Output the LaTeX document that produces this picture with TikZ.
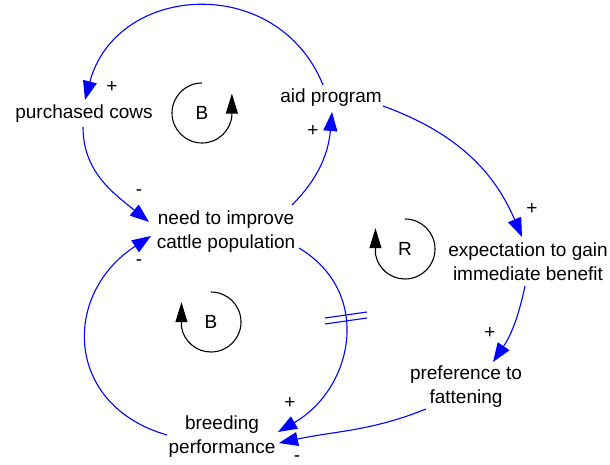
\documentclass[tikz,border=0pt]{standalone}
\usepackage{fontspec}
\setmainfont{Liberation Sans}
\usetikzlibrary{arrows.meta,calc}
\begin{document}
\begin{tikzpicture}[x=1pt,y=1pt,
  var/.style={align=center, inner sep=0pt, font=\fontsize{19}{24}\selectfont},
  sgn/.style={inner sep=0pt, font=\fontsize{19}{24}\selectfont},
  link/.style={draw=blue, line width=1.1pt, -{Triangle[length=19pt,width=14pt]}},
  loopmark/.style={draw=black, line width=1.1pt, -{Triangle[length=20pt,width=12pt]}},
  delaymark/.style={draw=blue, line width=1.1pt}
]
\useasboundingbox (0,0) rectangle (610,-465);
% variables
\node[var] (pc) at (84,-114) {purchased cows};
\node[var] (aid) at (331,-98) {aid program};
\node[var] (need) at (226,-232) {need to improve\\cattle population};
\node[var] (exp) at (528,-262) {expectation to gain\\immediate benefit};
\node[var] (pref) at (466,-387) {preference to\\fattening};
\node[var] (breed) at (222,-437) {breeding\\performance};
% links
\draw[link] ($(aid)+(-8,13)$) to[out=112,in=75,looseness=1.3] ($(pc)+(1,14)$);
\draw[link] ($(pc)+(-1,-13)$) to[out=-90,in=141] ($(need)+(-77,10)$);
\draw[link] ($(need)+(66,27)$) to[out=45,in=265] ($(aid)+(1,-14)$);
\draw[link] ($(aid)+(52,-8)$) to[out=-20,in=113] ($(exp)+(-6,25)$);
\draw[link] ($(exp)+(-3,-24)$) to[out=-102,in=56] ($(pref)+(27,25)$);
\draw[link] ($(pref)+(-40,-22)$) to[out=202,in=12] ($(breed)+(57,-6)$);
\draw[link] ($(need)+(73,-16)$) to[out=-31,in=30,looseness=1.2] ($(breed)+(56,5)$);
\draw[link] ($(breed)+(-55,2)$) to[out=164,in=213,looseness=1.37] ($(need)+(-75,-4)$);
% delay mark
\draw[delaymark] (325,-318) -- (367,-312) (325,-324) -- (367,-318);
% polarity signs
\node[sgn] (s1) at (112,-87) {+};
\node[sgn] (s2) at (313,-131) {+};
\node[sgn] (s3) at (139,-193) {-};
\node[sgn] (s4) at (532,-209) {+};
\node[sgn] (s5) at (490,-333) {+};
\node[sgn] (s6) at (297,-459) {-};
\node[sgn] (s7) at (290,-403) {+};
\node[sgn] (s8) at (139,-263) {-};
% loop markers
\node[sgn] (b1) at (202,-113) {B};
\draw[loopmark] ($(b1)+(0,30)$) arc[start angle=90,end angle=355,radius=30] -- ++(0,22);
\node[sgn] (r) at (405,-249) {R};
\draw[loopmark] ($(r)+(0,30)$) arc[start angle=90,end angle=-170,radius=30] -- ++(0,26);
\node[sgn] (b2) at (211,-322) {B};
\draw[loopmark] ($(b2)+(0,30)$) arc[start angle=90,end angle=-170,radius=30] -- ++(0,25);
\end{tikzpicture}
\end{document}
